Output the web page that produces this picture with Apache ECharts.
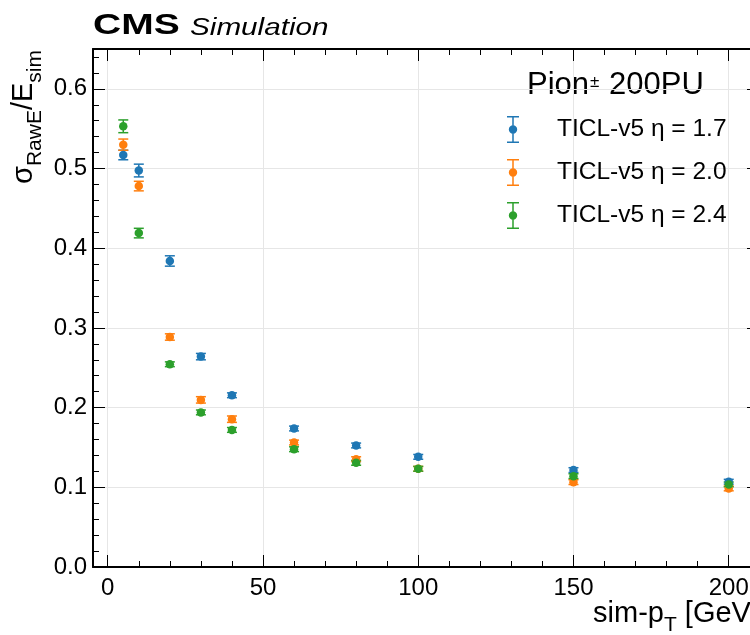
<!DOCTYPE html>
<html><head><meta charset="utf-8">
<script src="https://cdn.jsdelivr.net/npm/echarts@6/dist/echarts.min.js"></script>
<style>html,body{margin:0;padding:0;background:#fff}#c{width:750px;height:635px}</style>
</head><body><div id="c"></div>
<script>
// ---- data ----
const ptValues = [5, 10, 20, 30, 40, 60, 80, 100, 150, 200];
const seriesNames = ['TICL-v5 η = 1.7', 'TICL-v5 η = 2.0', 'TICL-v5 η = 2.4'];
const seriesColors = ['#1f77b4', '#ff7f0e', '#2ca02c'];
const eta17 = [0.517, 0.4975, 0.384, 0.264, 0.2155, 0.1738, 0.1525, 0.1382, 0.1216, 0.107];
const eta17Err = [0.006, 0.008, 0.0065, 0.004, 0.003, 0.003, 0.003, 0.003, 0.003, 0.003];
const eta20 = [0.530, 0.478, 0.2886, 0.2097, 0.1855, 0.1562, 0.1353, 0.1232, 0.1065, 0.0986];
const eta20Err = [0.007, 0.006, 0.004, 0.004, 0.004, 0.003, 0.003, 0.003, 0.003, 0.003];
const eta24 = [0.553, 0.419, 0.2544, 0.194, 0.172, 0.1478, 0.1307, 0.1232, 0.114, 0.1036];
const eta24Err = [0.008, 0.006, 0.003, 0.003, 0.003, 0.003, 0.003, 0.003, 0.003, 0.003];
const xTicks = [0, 50, 100, 150, 200];
const xTickLabels = ['0', '50', '100', '150', '200'];
const yTicks = [0, 0.1, 0.2, 0.3, 0.4, 0.5, 0.6];
const yTickLabels = ['0.0', '0.1', '0.2', '0.3', '0.4', '0.5', '0.6'];

const allValues = [eta17, eta20, eta24];
const allErrors = [eta17Err, eta20Err, eta24Err];
const FONT = '"Liberation Sans", Arial, Helvetica, sans-serif';

function labelFor(ticks, labels) {
  return function (v) {
    for (let i = 0; i < ticks.length; i++) if (Math.abs(v - ticks[i]) < 1e-6) return labels[i];
    return '';
  };
}

const legendIcon = 'path://M0,0 H12 V1.5 H0 Z M5.25,1.5 H6.75 V10 H5.25 Z M5.25,17 H6.75 V25.5 H5.25 Z M0,25.5 H12 V27 H0 Z M1.8,13.5 A4.2,4.2 0 1,1 10.2,13.5 A4.2,4.2 0 1,1 1.8,13.5 Z';

function errRender(params, api) {
  const x = api.value(0), y = api.value(1), e = api.value(2);
  const top = api.coord([x, y + e]);
  const bot = api.coord([x, y - e]);
  const style = { stroke: api.visual('color'), lineWidth: 1.5 };
  const hw = 5;
  return {
    type: 'group', children: [
      { type: 'line', shape: { x1: top[0], y1: top[1], x2: bot[0], y2: bot[1] }, style: style },
      { type: 'line', shape: { x1: top[0] - hw, y1: top[1], x2: top[0] + hw, y2: top[1] }, style: style },
      { type: 'line', shape: { x1: bot[0] - hw, y1: bot[1], x2: bot[0] + hw, y2: bot[1] }, style: style }
    ]
  };
}

const series = [];
for (let s = 0; s < 3; s++) {
  series.push({
    name: seriesNames[s] + ' err', type: 'custom', xAxisIndex: 0, yAxisIndex: 0,
    itemStyle: { color: seriesColors[s] }, renderItem: errRender, clip: false,
    data: ptValues.map((p, i) => [p, allValues[s][i], allErrors[s][i]]),
    silent: true
  });
  series.push({
    name: seriesNames[s], type: 'scatter', xAxisIndex: 0, yAxisIndex: 0,
    symbol: 'circle', symbolSize: 8.5,
    itemStyle: { color: seriesColors[s], opacity: 1 },
    data: ptValues.map((p, i) => [p, allValues[s][i]]),
    silent: true
  });
}

function xAxisCfg(pos, showLabel) {
  return {
    type: 'value', position: pos, min: -4.75, max: 209.75,
    splitNumber: 4, minInterval: 50, maxInterval: 50,
    axisLine: { show: true, onZero: false, lineStyle: { color: '#000', width: 2 } },
    axisTick: { show: true, inside: true, length: 12, lineStyle: { color: '#000', width: 1 } },
    minorTick: { show: true, splitNumber: 5, length: 6, lineStyle: { color: '#000', width: 1 } },
    axisLabel: { show: showLabel, margin: 9, fontSize: 24, fontFamily: FONT, color: '#000',
      formatter: labelFor(xTicks, xTickLabels), showMinLabel: true, showMaxLabel: true, hideOverlap: false },
    splitLine: { show: showLabel, lineStyle: { color: '#e6e6e6', width: 1 } },
    minorSplitLine: { show: false }
  };
}
function yAxisCfg(pos, showLabel) {
  return {
    type: 'value', position: pos, min: 0, max: 0.65, interval: 0.1,
    axisLine: { show: true, onZero: false, lineStyle: { color: '#000', width: 2 } },
    axisTick: { show: true, inside: true, length: 12, lineStyle: { color: '#000', width: 1 } },
    minorTick: { show: true, splitNumber: 5, length: 6, lineStyle: { color: '#000', width: 1 } },
    axisLabel: { show: showLabel, margin: 6, fontSize: 24, fontFamily: FONT, color: '#000',
      formatter: labelFor(yTicks, yTickLabels), hideOverlap: false },
    splitLine: { show: showLabel, lineStyle: { color: '#e6e6e6', width: 1 } },
    minorSplitLine: { show: false }
  };
}

const option = {
  backgroundColor: '#fff',
  animation: false,
  grid: { left: 93, top: 49, width: 666, height: 518, containLabel: false, outerBoundsMode: 'none' },
  xAxis: [xAxisCfg('bottom', true), xAxisCfg('top', false)],
  yAxis: [yAxisCfg('left', true), yAxisCfg('right', false)],
  legend: {
    orient: 'vertical', left: 507, top: 116, padding: 0, itemGap: 16,
    itemWidth: 12, itemHeight: 27, icon: legendIcon,
    data: seriesNames,
    textStyle: { fontSize: 24.5, fontFamily: FONT, color: '#000', padding: [0, 0, 0, 33] },
    selectedMode: false
  },
  graphic: [
    { type: 'text', x: 93, y: 26, scaleX: 1.3,
      style: { text: 'CMS', font: 'bold 30px ' + FONT, fill: '#000', align: 'left', verticalAlign: 'middle' } },
    { type: 'text', x: 190, y: 28.5, scaleX: 1.29,
      style: { text: 'Simulation', font: 'italic 23px ' + FONT, fill: '#000', align: 'left', verticalAlign: 'middle' } },
    { type: 'text', x: 527, y: 70,
      style: { text: '{a|Pion}{s|±}{a| 200PU}', align: 'left', verticalAlign: 'top', fill: '#000',
        rich: { a: { fontSize: 31, fontFamily: FONT, lineHeight: 33, verticalAlign: 'top', fill: '#000' },
                s: { fontSize: 17, fontFamily: FONT, lineHeight: 17, verticalAlign: 'top', padding: [4, 1, 0, 1], fill: '#000' } } } },
    { type: 'text', x: 759, y: 599,
      style: { text: '{a|sim-p}{s|T}{a| [GeV]}', align: 'right', verticalAlign: 'top', fill: '#000',
        rich: { a: { fontSize: 29, fontFamily: FONT, lineHeight: 32, verticalAlign: 'top', fill: '#000' },
                s: { fontSize: 21, fontFamily: FONT, lineHeight: 21, verticalAlign: 'top', padding: [16, 0, 0, 0], fill: '#000' } } } },
    { type: 'text', x: 9, y: 50, rotation: Math.PI / 2,
      style: { text: '{a|σ}{s|RawE}{a|/E}{s|sim}', align: 'right', verticalAlign: 'top', fill: '#000',
        rich: { a: { fontSize: 29, fontFamily: FONT, lineHeight: 32, verticalAlign: 'top', fill: '#000' },
                s: { fontSize: 21, fontFamily: FONT, lineHeight: 21, verticalAlign: 'top', padding: [16, 0, 0, 0], fill: '#000' } } } }
  ],
  series: series
};
const chart = echarts.init(document.getElementById('c'), null, { renderer: 'canvas' });
chart.setOption(option);
</script>
</body></html>
